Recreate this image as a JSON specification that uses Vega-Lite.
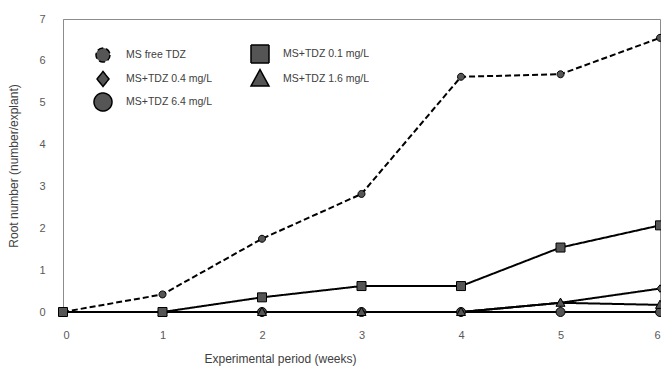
{
  "$schema": "https://vega.github.io/schema/vega-lite/v6.json",
  "autosize": "none",
  "padding": {"left": 63, "top": 19, "right": 1, "bottom": 59},
  "width": 597,
  "height": 293,
  "background": "white",
  "config": {
    "view": {"stroke": "#8c8c8c", "strokeWidth": 1},
    "font": "Liberation Sans"
  },
  "data": {
    "values": [
      {"series": "MS+TDZ 6.4 mg/L", "week": 0, "root": 0},
      {"series": "MS+TDZ 6.4 mg/L", "week": 1, "root": 0},
      {"series": "MS+TDZ 6.4 mg/L", "week": 2, "root": 0},
      {"series": "MS+TDZ 6.4 mg/L", "week": 3, "root": 0},
      {"series": "MS+TDZ 6.4 mg/L", "week": 4, "root": 0},
      {"series": "MS+TDZ 6.4 mg/L", "week": 5, "root": 0},
      {"series": "MS+TDZ 6.4 mg/L", "week": 6, "root": 0},
      {"series": "MS+TDZ 0.4 mg/L", "week": 0, "root": 0},
      {"series": "MS+TDZ 0.4 mg/L", "week": 1, "root": 0},
      {"series": "MS+TDZ 0.4 mg/L", "week": 2, "root": 0},
      {"series": "MS+TDZ 0.4 mg/L", "week": 3, "root": 0},
      {"series": "MS+TDZ 0.4 mg/L", "week": 4, "root": 0},
      {"series": "MS+TDZ 0.4 mg/L", "week": 5, "root": 0.22},
      {"series": "MS+TDZ 0.4 mg/L", "week": 6, "root": 0.56},
      {"series": "MS+TDZ 1.6 mg/L", "week": 0, "root": 0},
      {"series": "MS+TDZ 1.6 mg/L", "week": 1, "root": 0},
      {"series": "MS+TDZ 1.6 mg/L", "week": 2, "root": 0},
      {"series": "MS+TDZ 1.6 mg/L", "week": 3, "root": 0},
      {"series": "MS+TDZ 1.6 mg/L", "week": 4, "root": 0},
      {"series": "MS+TDZ 1.6 mg/L", "week": 5, "root": 0.22},
      {"series": "MS+TDZ 1.6 mg/L", "week": 6, "root": 0.17},
      {"series": "MS free TDZ", "week": 0, "root": 0},
      {"series": "MS free TDZ", "week": 1, "root": 0.42},
      {"series": "MS free TDZ", "week": 2, "root": 1.75},
      {"series": "MS free TDZ", "week": 3, "root": 2.82},
      {"series": "MS free TDZ", "week": 4, "root": 5.62},
      {"series": "MS free TDZ", "week": 5, "root": 5.68},
      {"series": "MS free TDZ", "week": 6, "root": 6.55},
      {"series": "MS+TDZ 0.1 mg/L", "week": 0, "root": 0},
      {"series": "MS+TDZ 0.1 mg/L", "week": 1, "root": 0},
      {"series": "MS+TDZ 0.1 mg/L", "week": 2, "root": 0.35},
      {"series": "MS+TDZ 0.1 mg/L", "week": 3, "root": 0.62},
      {"series": "MS+TDZ 0.1 mg/L", "week": 4, "root": 0.62},
      {"series": "MS+TDZ 0.1 mg/L", "week": 5, "root": 1.54},
      {"series": "MS+TDZ 0.1 mg/L", "week": 6, "root": 2.07}
    ]
  },
  "encoding": {
    "x": {
      "field": "week", "type": "quantitative",
      "scale": {"domain": [0, 6], "nice": false},
      "axis": {
        "values": [0, 1, 2, 3, 4, 5, 6], "format": "d",
        "domain": false, "ticks": false, "grid": false,
        "labelPadding": 17, "labelFontSize": 11, "labelColor": "#595959",
        "labelFont": "Liberation Sans",
        "title": "Experimental period (weeks)",
        "titleFont": "Liberation Sans", "titleFontSize": 12, "titleFontWeight": "normal",
        "titleColor": "#404040", "titleX": 217, "titleY": 41, "titleBaseline": "top"
      }
    },
    "y": {
      "field": "root", "type": "quantitative",
      "scale": {"domain": [0, 7], "nice": false},
      "axis": {
        "values": [0, 1, 2, 3, 4, 5, 6, 7], "format": "d",
        "domain": true, "domainColor": "#8c8c8c", "ticks": false, "grid": false,
        "labelPadding": 18, "labelFontSize": 11, "labelColor": "#595959",
        "labelFont": "Liberation Sans",
        "title": "Root number (number/explant)",
        "titleFont": "Liberation Sans", "titleFontSize": 12, "titleFontWeight": "normal",
        "titleColor": "#404040", "titlePadding": 18
      }
    }
  },
  "layer": [
    {
      "mark": {"type": "line", "color": "black", "strokeWidth": 2},
      "encoding": {
        "detail": {"field": "series"},
        "strokeDash": {
          "field": "series", "type": "nominal",
          "scale": {
            "domain": ["MS free TDZ", "MS+TDZ 0.1 mg/L", "MS+TDZ 0.4 mg/L", "MS+TDZ 1.6 mg/L", "MS+TDZ 6.4 mg/L"],
            "range": [[6, 3], [1, 0], [1, 0], [1, 0], [1, 0]]
          }
        }
      }
    },
    {
      "mark": {"type": "point", "filled": true, "fill": "#555555", "stroke": "black", "strokeWidth": 1, "opacity": 1, "size": 100},
      "encoding": {
        "shape": {
          "field": "series", "type": "nominal",
          "scale": {
            "domain": ["MS free TDZ", "MS+TDZ 0.1 mg/L", "MS+TDZ 0.4 mg/L", "MS+TDZ 1.6 mg/L", "MS+TDZ 6.4 mg/L"],
            "range": [
              "M0.7,0A0.7,0.7,0,1,1,-0.7,0A0.7,0.7,0,1,1,0.7,0Z",
              "M-0.9,-0.9H0.9V0.9H-0.9Z",
              "M0,-0.75L0.6,0L0,0.75L-0.6,0Z",
              "M0,-0.95L0.9,0.7H-0.9Z",
              "M0.9,0A0.9,0.9,0,1,1,-0.9,0A0.9,0.9,0,1,1,0.9,0Z"
            ]
          },
          "legend": {
            "title": null,
            "orient": "none",
            "direction": "horizontal",
            "legendX": 29,
            "legendY": 24,
            "padding": 0,
            "columns": 2,
            "columnPadding": 35,
            "rowPadding": 0,
            "symbolSize": 400,
            "symbolStrokeWidth": 1.5,
            "symbolFillColor": "#555555",
            "symbolStrokeColor": "black",
            "labelOffset": 12,
            "labelFont": "Liberation Sans",
            "labelFontSize": 10.5,
            "labelColor": "#404040"
          }
        }
      }
    }
  ]
}
